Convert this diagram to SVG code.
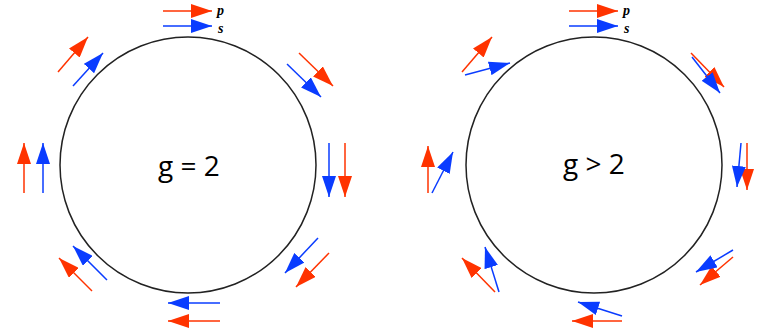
<svg xmlns="http://www.w3.org/2000/svg" width="760" height="330" viewBox="0 0 760 330">
<style>
.c{fill:none;stroke:#222;stroke-width:1.5}
.p{stroke:#ff3300;stroke-width:1.5;fill:none;marker-end:url(#hp)}
.s{stroke:#0a3cff;stroke-width:1.5;fill:none;marker-end:url(#hs)}
.g{font-family:"Open Sans","Liberation Sans",sans-serif;font-size:28px;fill:#000;text-anchor:middle}
.l{font-family:"Liberation Serif",serif;font-style:italic;font-weight:bold;font-size:14px;fill:#000}
</style>
<defs>
<marker id="hp" markerUnits="userSpaceOnUse" markerWidth="22" markerHeight="14" refX="21" refY="7" orient="auto"><path d="M0,0 L21,7 L0,14 z" fill="#ff3300"/></marker>
<marker id="hs" markerUnits="userSpaceOnUse" markerWidth="22" markerHeight="14" refX="21" refY="7" orient="auto"><path d="M0,0 L21,7 L0,14 z" fill="#0a3cff"/></marker>
</defs>
<g id="left">
<circle class="c" cx="188" cy="165" r="128"/>
<text class="g" x="189" y="176">g = 2</text>
</g>
<g id="right">
<circle class="c" cx="594" cy="165" r="128"/>
<text class="g" x="594" y="174">g &gt; 2</text>
</g>
<g id="labels">
<text class="l" x="217" y="15">p</text>
<text class="l" x="218" y="33">s</text>
<text class="l" x="623" y="15">p</text>
<text class="l" x="624" y="33">s</text>
</g>
<g id="connectors">
<line class="p" x1="163" y1="11" x2="212" y2="11"/>
<line class="s" x1="163" y1="26" x2="212" y2="26"/>
<line class="p" x1="299" y1="53" x2="333" y2="86"/>
<line class="s" x1="287" y1="64" x2="321" y2="97"/>
<line class="p" x1="345" y1="143" x2="345" y2="197"/>
<line class="s" x1="329" y1="143" x2="329" y2="197"/>
<line class="p" x1="329" y1="253" x2="296" y2="287"/>
<line class="s" x1="318" y1="238" x2="285" y2="273"/>
<line class="p" x1="220" y1="321" x2="168" y2="321"/>
<line class="s" x1="220" y1="303" x2="168" y2="303"/>
<line class="p" x1="92" y1="291" x2="59" y2="258"/>
<line class="s" x1="107" y1="280" x2="73" y2="246"/>
<line class="p" x1="24" y1="193" x2="24" y2="143"/>
<line class="s" x1="43" y1="193" x2="43" y2="143"/>
<line class="p" x1="58" y1="72" x2="88" y2="37"/>
<line class="s" x1="73" y1="86" x2="103" y2="53"/>
<line class="p" x1="569" y1="11" x2="618" y2="11"/>
<line class="s" x1="569" y1="26" x2="618" y2="26"/>
<line class="p" x1="691" y1="53" x2="724" y2="87"/>
<line class="s" x1="692" y1="57" x2="720" y2="93"/>
<line class="p" x1="747" y1="143" x2="747" y2="190"/>
<line class="s" x1="741" y1="143" x2="737" y2="187"/>
<line class="p" x1="733" y1="257" x2="700" y2="285"/>
<line class="s" x1="733" y1="250" x2="696" y2="272"/>
<line class="p" x1="622" y1="321" x2="572" y2="321"/>
<line class="s" x1="622" y1="316" x2="578" y2="302"/>
<line class="p" x1="495" y1="292" x2="462" y2="258"/>
<line class="s" x1="499" y1="292" x2="485" y2="247"/>
<line class="p" x1="428" y1="193" x2="428" y2="146"/>
<line class="s" x1="432" y1="193" x2="453" y2="152"/>
<line class="p" x1="462" y1="72" x2="492" y2="37"/>
<line class="s" x1="465" y1="75" x2="510" y2="63"/>
</g>
</svg>
